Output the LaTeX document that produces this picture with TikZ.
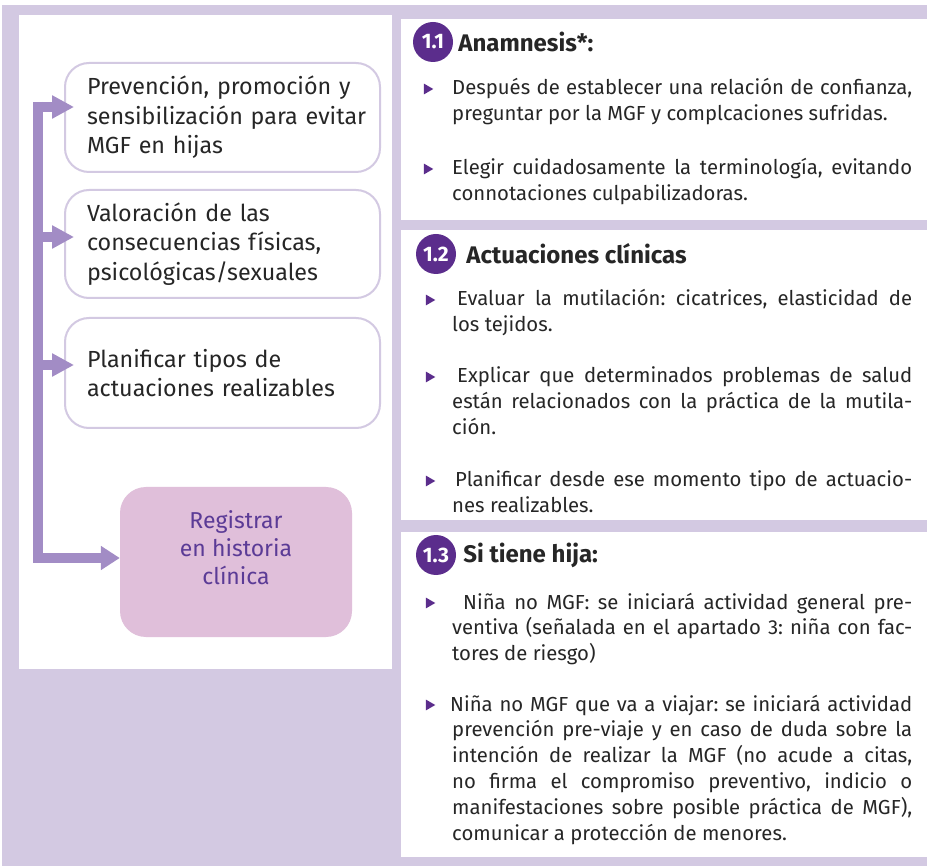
\documentclass[tikz,border=0pt]{standalone}
\usepackage{fontspec}
\setmainfont{Fira Sans}
\usetikzlibrary{arrows.meta, positioning, shapes.geometric}

\definecolor{lav}{HTML}{D3C9E2}
\definecolor{flowcol}{HTML}{A28CC5}
\definecolor{pinkfill}{HTML}{E0BFDA}
\definecolor{pinktext}{HTML}{5B3B96}
\definecolor{badgecol}{HTML}{5B2D8C}
\definecolor{inkcol}{HTML}{262626}

\newcommand\itemfont{\fontsize{20.3}{25.8}\selectfont}
\hyphenpenalty=10000
\exhyphenpenalty=10000
\tolerance=9999
\frenchspacing

\begin{document}
\begin{tikzpicture}[x=1pt, y=-1pt, node distance=5pt,
stepbox/.style = {draw=lav, line width=2pt, rounded corners=24pt, fill=white, minimum width=315pt,
  text width=271pt, inner xsep=22pt, align=left, text=inkcol, font=\fontsize{23.3}{29.5}\selectfont},
regbox/.style = {fill=pinkfill, rounded corners=26pt, minimum width=232pt, minimum height=150pt,
  align=center, text=pinktext, font=\fontsize{23}{28}\selectfont},
flow/.style = {draw=flowcol, line width=10pt, -{Triangle[length=22pt,width=22pt]}},
badge/.style = {circle, fill=badgecol, text=white, minimum size=40pt, inner sep=0pt,
  font=\fontsize{21}{21}\selectfont\bfseries},
sectitle/.style = {anchor=west, inner sep=0pt, text=inkcol, font=\fontsize{24}{24}\selectfont\bfseries},
tick/.style = {regular polygon, regular polygon sides=3, shape border rotate=-90, fill=badgecol,
  minimum size=12.5pt, inner sep=0pt},
item/.style = {anchor=base west, text width=460pt, inner sep=0pt, align=justify, text=inkcol, font=\itemfont}]

\useasboundingbox (0,0) rectangle (927,866);
% background and panels
\fill[lav] (2,5) rectangle (927,866);
\fill[white] (19,15) rectangle (392,669);
\fill[white] (401,19) rectangle (927,220);
\fill[white] (401,230) rectangle (927,520);
\fill[white] (401,532) rectangle (927,857);

% left column
\node[stepbox, minimum height=109pt] (prev) at (222.5,117.5) {\mbox{Prevención, promoción y}\\\mbox{sensibilización para evitar}\\\mbox{MGF en hijas}};
\node[stepbox, minimum height=108pt] (val) at (222.5,244) {\mbox{Valoración de las}\\\mbox{consecuencias físicas,}\\\mbox{psicológicas/sexuales}};
\node[stepbox, minimum height=110pt] (plan) at (222.5,373) {\mbox{Planificar tipos de}\\\mbox{actuaciones realizables}};
\node[regbox] (reg) at (236,562) {Registrar\\en historia\\clínica\\\mbox{}};

\coordinate (bartop) at (38,102);
\coordinate (a1) at ([yshift=10.5pt]prev.west);
\coordinate (a2) at ([yshift=7pt]val.west);
\coordinate (a3) at ([yshift=8pt]plan.west);
\coordinate (a4) at ([yshift=4pt]reg.west);

\draw[flow, -{Triangle[length=19pt,width=23pt]}] (bartop) |- (a4);
\draw[flow, shorten >=-10pt] (bartop |- a1) -- (a1);
\draw[flow, shorten >=-10pt] (bartop |- a2) -- (a2);
\draw[flow, shorten >=-10pt] (bartop |- a3) -- (a3);

% 1.1
\node[badge] (n11) at (433,42) {1.1};
\node[sectitle, right=5pt of n11] (t11) {Anamnesis*:};
\node[tick] (k11a) at (427,89) {};
\node[item] (i11a) at (452,95) {Después de establecer una relación de confianza,\linebreak preguntar por la MGF y complcaciones sufridas.};
\node[tick] (k11b) at (427,169) {};
\node[item] (i11b) at (452,175) {Elegir cuidadosamente la terminología, evitando\linebreak connotaciones culpabilizadoras.};

% 1.2
\node[badge] (n12) at (436,254) {1.2};
\node[sectitle, right=10pt of n12] (t12) {Actuaciones clínicas};
\node[tick] (k12a) at (429,300) {};
\node[item] (i12a) at (452,306) {\hspace*{5pt}Evaluar la mutilación: cicatrices, elasticidad de\linebreak los tejidos.};
\node[tick] (k12b) at (429,377) {};
\node[item] (i12b) at (452,383) {\hspace*{5pt}Explicar que determinados problemas de salud\linebreak están relacionados con la práctica de la mutila-\linebreak ción.};
\node[tick] (k12c) at (429,481) {};
\node[item] (i12c) at (452,487) {\hspace*{3pt}Planificar desde ese momento tipo de actuacio-\linebreak nes realizables.};

% 1.3
\node[badge] (n13) at (436,555) {1.3};
\node[sectitle, right=7pt of n13] (t13) {Si tiene hija:};
\node[tick] (k13a) at (429,603) {};
\node[item] (i13a) at (452,609) {\hspace*{11pt}Niña no MGF: se iniciará actividad general pre-\linebreak ventiva (señalada en el apartado 3: niña con fac-\linebreak tores de riesgo)};
\node[tick] (k13b) at (429,705) {};
\node[item] (i13b) at (452,711) {\hspace*{-2pt}Niña no MGF que va a viajar: se iniciará actividad\linebreak prevención pre-viaje y en caso de duda sobre la\linebreak intención de realizar la MGF (no acude a citas,\linebreak no firma el compromiso preventivo, indicio o\linebreak manifestaciones sobre posible práctica de MGF),\linebreak comunicar a protección de menores.};
\end{tikzpicture}
\end{document}
